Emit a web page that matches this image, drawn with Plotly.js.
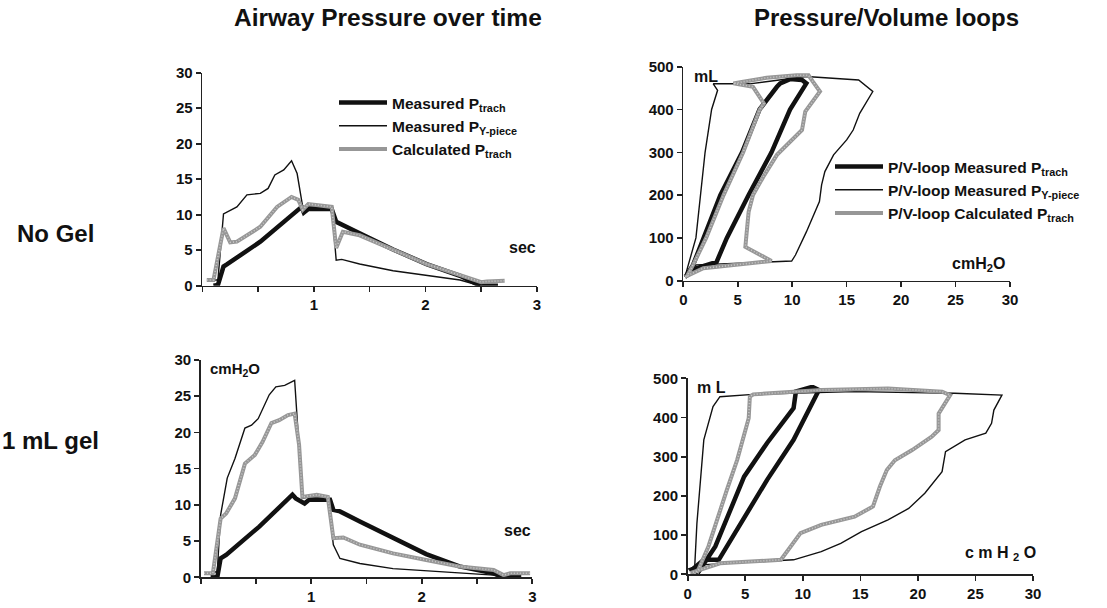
<!DOCTYPE html>
<html>
<head>
<meta charset="utf-8">
<script src="https://cdn.plot.ly/plotly-3.0.1.min.js"></script>
<style>html,body{margin:0;padding:0;background:#fff;}#chart{width:1107px;height:608px;}</style>
</head>
<body>
<div id="chart"></div>
<script>
// ---------- Data: Airway pressure over time, No Gel ----------
var ngTrachT = [0.10,0.14,0.19,0.22,0.52,0.89,0.91,0.95,1.16,1.20,1.41,1.71,2.01,2.31,2.49,2.65];
var ngTrachP = [0,0.1,2.7,3.0,6.2,11.1,10.3,10.8,10.8,9.0,7.4,5.1,3.05,1.4,0,0];
var ngYT = [0.10,0.14,0.19,0.31,0.40,0.52,0.59,0.65,0.73,0.80,0.85,0.90,0.92,0.95,1.16,1.20,1.25,1.41,1.71,2.01,2.31,2.49];
var ngYP = [0.8,0.8,10.1,11.1,12.8,13.0,13.7,15.6,16.3,17.6,15.8,11.1,10.4,11.1,11.1,3.6,3.7,3.05,2.1,1.4,0.8,0];
var ngCalcT = [0.04,0.10,0.19,0.25,0.31,0.52,0.67,0.80,0.86,0.90,0.95,1.16,1.20,1.26,1.41,1.71,2.01,2.31,2.50,2.55,2.71];
var ngCalcP = [0.8,0.8,8.1,6.1,6.2,8.3,11.1,12.5,12.1,10.7,11.5,11.1,5.3,7.6,7.1,5.0,3.05,1.5,0.5,0.6,0.7];

// ---------- Data: Airway pressure over time, 1 mL gel ----------
var gelTrachT = [0.09,0.15,0.18,0.23,0.53,0.83,0.86,0.94,0.98,1.17,1.20,1.26,1.44,1.74,2.04,2.34,2.65,2.74,2.90];
var gelTrachP = [0,0,2.6,3.1,7.0,11.4,10.9,10.2,10.7,10.7,9.3,9.1,7.7,5.4,3.2,1.5,0.55,0,0];
var gelYT = [0.10,0.15,0.18,0.24,0.31,0.40,0.46,0.52,0.62,0.68,0.76,0.85,0.92,0.98,1.15,1.20,1.26,1.44,1.74,2.04,2.34,2.65,2.74];
var gelYP = [0.6,0.8,8.6,13.7,16.4,20.6,21.0,21.9,25.2,26.3,26.5,27.2,10.9,11.1,11.1,4.5,2.6,1.9,1.2,0.9,0.65,0.3,0];
var gelCalcT = [0.03,0.11,0.18,0.23,0.31,0.40,0.49,0.56,0.64,0.71,0.79,0.85,0.89,0.92,1.05,1.15,1.20,1.29,1.44,1.74,2.04,2.34,2.65,2.74,2.80,2.98];
var gelCalcP = [0.55,0.55,8.1,8.8,10.9,15.7,16.9,18.7,21.3,21.7,22.4,22.6,18.3,11.1,11.4,11.1,5.4,5.5,4.5,3.3,2.4,1.5,1.0,0.3,0.55,0.55];

// ---------- Data: P/V loops, No Gel (cmH2O, mL) ----------
var ngPvTrachX = [0.15,1.2,3.06,4.0,6.0,8.1,9.8,11.3,10.9,9.8,8.9,8.6,7.0,5.4,3.4,1.8,0.9,0.3];
var ngPvTrachY = [9,29,44,100,200,300,400,461,469,471,461,453,400,300,200,100,37,13];
var ngPvYX = [0.15,1.2,9.95,10.3,11.3,12.5,12.7,13.0,13.8,15.0,15.6,16.2,17.4,16.1,11.3,6.1,2.75,3.15,2.6,2.0,1.16,0.15];
var ngPvYY = [9,37,46,60,114,185,224,255,294,329,352,391,442,469,477,460,460,445,400,300,100,9];
var ngPvCalcX = [0.15,1.84,8.1,5.7,5.8,6.0,6.4,7.35,8.6,10.1,10.9,11.2,12.55,11.9,11.5,10.4,7.65,5.5,4.6,6.4,7.4,7.0,5.5,3.7,2.1,0.9,0.3];
var ngPvCalcY = [9,29,46,79,107,161,200,243,294,333,352,395,442,465,480,480,474,465,461,453,414,399,300,200,100,37,9];

// ---------- Data: P/V loops, 1 mL gel ----------
var gelPvTrachX = [0.2,1.4,2.7,4.6,6.9,9.2,11.4,10.9,10.7,9.4,9.2,6.9,4.9,2.4,1.2,0.8];
var gelPvTrachY = [7,37,37,130,241,343,470,477,477,466,424,335,249,71,20,0];
var gelPvYX = [0,1.1,9.2,11.6,13.3,15.1,17.4,19.2,20.6,22.1,22.4,24.1,25.9,26.4,26.6,27.3,23.2,14.5,5.7,2.8,2.2,1.4,0.8,0.6];
var gelPvYY = [13,24,37,58,79,109,139,168,207,262,313,343,360,385,419,457,462,466,459,453,428,343,130,15];
var gelPvCalcX = [0.2,2.8,8.1,8.7,9.8,11.6,14.5,16.1,16.7,17.3,18.0,19.5,21.2,21.8,21.8,22.8,22.1,17.4,11.6,5.7,5.4,5.3,4.3,3.4,1.8,0.8];
var gelPvCalcY = [3,28,37,62,105,126,147,173,224,266,291,317,351,368,410,457,466,474,470,459,453,398,292,215,71,3];

// ---------- Tick labels ----------
var timeTickVals = [0,0.5,1,1.5,2,2.5,3];
var timeTickText = ['','','1','','2','','3'];
var pressTickVals = [0,5,10,15,20,25,30];
var volTickVals = [0,100,200,300,400,500];
var pvPressTickVals = [0,5,10,15,20,25,30];

// ---------- Legend names ----------
var namesTime = ['Measured P<sub>trach</sub>','Measured P<sub>Y-piece</sub>','Calculated P<sub>trach</sub>'];
var namesPV = ['P/V-loop Measured P<sub>trach</sub>','P/V-loop Measured P<sub>Y-piece</sub>','P/V-loop Calculated P<sub>trach</sub>'];

var BLACK = '#111111';
var GRAY = '#979797';
var TEX = 'rgba(205,205,205,0.9)';

function triple(xs, ys, xa, ya, names, legend, show) {
  var out = [];
  out.push({x: xs[0], y: ys[0], xaxis: xa, yaxis: ya, mode: 'lines', name: names[0], legend: legend,
    showlegend: show, line: {color: BLACK, width: 4.5}});
  out.push({x: xs[1], y: ys[1], xaxis: xa, yaxis: ya, mode: 'lines', name: names[1], legend: legend,
    showlegend: show, line: {color: BLACK, width: 1.4}});
  out.push({x: xs[2], y: ys[2], xaxis: xa, yaxis: ya, mode: 'lines', name: names[2], legend: legend,
    showlegend: show, line: {color: GRAY, width: 4}});
  out.push({x: xs[2], y: ys[2], xaxis: xa, yaxis: ya, mode: 'lines', showlegend: false, hoverinfo: 'skip',
    line: {color: TEX, width: 1.6, dash: '1px,2px'}});
  return out;
}

var data = [].concat(
  triple([ngTrachT, ngYT, ngCalcT], [ngTrachP, ngYP, ngCalcP], 'x', 'y', namesTime, 'legend', true),
  triple([ngPvTrachX, ngPvYX, ngPvCalcX], [ngPvTrachY, ngPvYY, ngPvCalcY], 'x2', 'y2', namesPV, 'legend2', true),
  triple([gelTrachT, gelYT, gelCalcT], [gelTrachP, gelYP, gelCalcP], 'x3', 'y3', namesTime, 'legend', false),
  triple([gelPvTrachX, gelPvYX, gelPvCalcX], [gelPvTrachY, gelPvYY, gelPvCalcY], 'x4', 'y4', namesPV, 'legend2', false)
);

var W = 1107, H = 608;
function px(v){return v / W;}
function py(v){return 1 - v / H;}

var FAM = 'Liberation Sans, Arial, sans-serif';
var tickFont = {family: FAM, size: 15, color: '#111', weight: 'bold'};
function axisBase(extra) {
  var a = {showgrid: false, zeroline: false, showline: true, linecolor: '#222', linewidth: 1.6,
    ticks: 'outside', ticklen: 5, tickwidth: 1.6, tickcolor: '#222', tickfont: tickFont, fixedrange: true};
  for (var k in extra) a[k] = extra[k];
  return a;
}
function ann(text, x, y, size, anchor) {
  return {text: text, x: px(x), y: py(y), xref: 'paper', yref: 'paper', xanchor: anchor || 'center',
    yanchor: 'middle', showarrow: false, font: {family: FAM, size: size, color: '#111', weight: 'bold'}};
}

var layout = {
  width: W, height: H,
  margin: {l: 0, r: 0, t: 0, b: 0},
  paper_bgcolor: '#fff', plot_bgcolor: 'rgba(0,0,0,0)',
  font: {family: FAM, color: '#111', weight: 'bold'},
  xaxis: axisBase({domain: [px(202.3), px(537)], range: [0, 3], tickmode: 'array', tickvals: timeTickVals, ticktext: timeTickText, anchor: 'y'}),
  yaxis: axisBase({domain: [py(285.7), py(72.7)], range: [0, 30], tickmode: 'array', tickvals: pressTickVals, anchor: 'x'}),
  xaxis2: axisBase({domain: [px(683.3), px(1010)], range: [0, 30], tickmode: 'array', tickvals: pvPressTickVals, anchor: 'y2'}),
  yaxis2: axisBase({domain: [py(280.7), py(66.7)], range: [0, 500], tickmode: 'array', tickvals: volTickVals, anchor: 'x2'}),
  xaxis3: axisBase({domain: [px(200.7), px(532.3)], range: [0, 3], tickmode: 'array', tickvals: timeTickVals, ticktext: timeTickText, anchor: 'y3'}),
  yaxis3: axisBase({domain: [py(577.3), py(360)], range: [0, 30], tickmode: 'array', tickvals: pressTickVals, anchor: 'x3'}),
  xaxis4: axisBase({domain: [px(687.7), px(1033)], range: [0, 30], tickmode: 'array', tickvals: pvPressTickVals, anchor: 'y4'}),
  yaxis4: axisBase({domain: [py(574.3), py(378.3)], range: [0, 500], tickmode: 'array', tickvals: volTickVals, anchor: 'x4'}),
  legend: {x: px(334), y: py(86), xanchor: 'left', yanchor: 'top', bgcolor: 'rgba(0,0,0,0)',
    font: {family: FAM, size: 15.5, color: '#111', weight: 'bold'}, tracegroupgap: 0, itemwidth: 48},
  legend2: {x: px(830), y: py(150), xanchor: 'left', yanchor: 'top', bgcolor: 'rgba(0,0,0,0)',
    font: {family: FAM, size: 15.5, color: '#111', weight: 'bold'}, tracegroupgap: 0, itemwidth: 48},
  annotations: [
    ann('Airway Pressure over time', 388, 18, 24.5),
    ann('Pressure/Volume loops', 886, 18, 24),
    ann('No Gel', 55, 233, 24),
    ann('1 mL gel', 50, 440, 24),
    ann('sec', 522, 247, 16),
    ann('sec', 517, 530, 16),
    ann('cmH<sub>2</sub>O', 208, 369, 15, 'left'),
    ann('mL', 692, 76, 16, 'left'),
    ann('m L', 695, 387, 16, 'left'),
    ann('cmH<sub>2</sub>O', 978, 264, 16),
    ann('c m H <sub>2</sub> O', 1000, 553, 16)
  ]
};

Plotly.newPlot('chart', data, layout, {staticPlot: true, displayModeBar: false});
</script>
</body>
</html>
